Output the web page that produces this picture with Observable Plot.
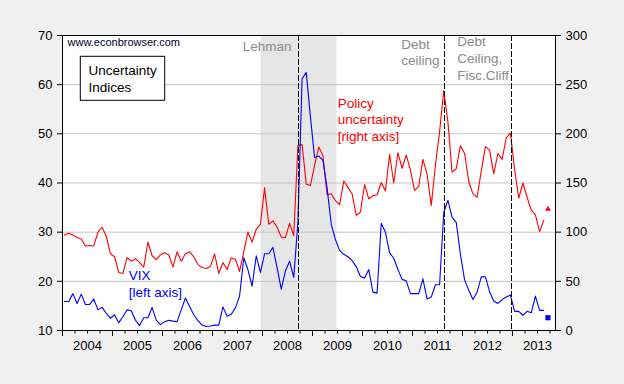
<!DOCTYPE html>
<html><head><meta charset="utf-8">
<script src="https://cdn.jsdelivr.net/npm/d3@7"></script>
<script src="https://cdn.jsdelivr.net/npm/@observablehq/plot@0.6"></script>
<style>html,body{margin:0;padding:0;background:#f0f0f0;}</style>
</head><body><div id="chart"></div>
<script>
// Monthly data, 2004M01 .. 2013M08
const startYear = 2004;
const vix = [
 15.9,15.9,17.5,15.5,17.4,15.3,15.3,16.4,14.2,14.7,13.5,12.5,
 13.2,11.6,12.8,14.2,14.0,12.1,11.0,12.6,12.6,14.7,12.1,11.2,
 11.8,12.1,11.9,11.8,14.2,16.6,14.9,13.2,12.0,11.1,10.8,10.9,
 11.1,11.1,14.8,12.9,13.3,14.6,17.0,24.8,22.4,19.0,25.2,21.8,
 25.6,25.6,26.9,22.8,18.4,22.1,24.1,20.8,32.0,61.2,62.5,53.5,
 45.2,45.5,44.6,39.0,31.6,28.5,26.3,25.5,25.0,24.2,23.0,21.0,
 20.7,22.4,17.8,17.6,31.8,30.0,25.8,24.7,22.4,20.4,20.1,17.5,
 17.5,17.5,20.5,16.4,16.8,19.3,19.3,34.0,36.5,33.0,32.0,25.5,
 20.3,18.2,16.3,17.8,20.9,20.9,17.9,16.0,15.5,16.3,16.8,17.2,
 13.9,13.9,13.1,13.9,13.6,17.0,14.1,14.1
];
const policy = [
 97,99,97,94.5,93,86,86.5,86,100,105,96,78,
 75,59,58,74,70.5,73,69,64.5,90,76,72,77,
 79,77,64.5,80,70.5,78,80,75,67,64,63,65,
 78,58,69,62,74,72.5,60,80,100,90,103,108,
 145,108,111.5,105,95,94.5,109,96.5,188,189,149,147.5,
 168,186.5,178,138,139,132,128,152,145.5,139,117,120.5,
 148.5,134,137,138,150.5,142,179,150,181,165,178.5,163,
 142.5,146.5,174,159,127,168,202,244,212,161,164.5,188,
 180,151.5,139,135.5,162,187,183.5,159.5,180,174,196,201,
 164,134.5,150,135.5,122.5,117.5,100.5,112
];
// latest readings (2013M09), shown as markers
const latestMonthIndex = 116;
const vixLatest = 12.6;
const policyLatest = 123.5;

const yearLabels = [2004,2005,2006,2007,2008,2009,2010,2011,2012,2013];
const leftTicks = [10,20,30,40,50,60,70];
const gridValues = [20,30,40,50,60];
const rightTicks = [0,50,100,150,200,250,300];
const events = [
  {name:"Lehman", date:2008.72},
  {name:"Debt ceiling", date:2011.64},
  {name:"Fiscal cliff", date:2012.98}
];
const recession = [{start:2007.97, end:2009.49}];

// right axis (0..300) mapped onto left axis (10..70)
const toLeft = v => 10 + v * 60 / 300;
const fromLeft = d => Math.round((d - 10) * 300 / 60);
const monthX = i => startYear + (i + 0.5) / 12;

const rows = vix.map((v, i) => ({t: monthX(i), vix: v, policy: toLeft(policy[i])}));
const latest = [{t: monthX(latestMonthIndex), vix: vixLatest, policy: toLeft(policyLatest)}];

const quarters = [];
for (let y = 2004; y <= 2013; y++) for (const q of [0.25, 0.5, 0.75]) quarters.push(y + q);

const font = "'Liberation Sans', Arial, Helvetica, sans-serif";
const gray = "#8a8a8a";

const notes = [
  {x:2008.58, y:66.81, text:"Lehman", anchor:"end", fill:gray},
  {x:2010.774, y:63.90, text:"Debt\nceiling", anchor:"start", fill:gray},
  {x:2011.894, y:60.99, text:"Debt\nCeiling,\nFisc.Cliff", anchor:"start", fill:gray},
  {x:2009.506, y:48.50, text:"Policy\nuncertainty\n[right axis]", anchor:"start", fill:"#ff0000"},
  {x:2005.326, y:16.77, text:"VIX\n[left axis]", anchor:"start", fill:"#0000ff"},
  {x:2004.52, y:58.47, text:"Uncertainty\nIndices", anchor:"start", fill:"black"}
];
const box = [{x1:2004.366, x2:2006.054, y1:56.72, y2:65.67}];

const chart = Plot.plot({
  width: 624,
  height: 384,
  marginLeft: 62,
  marginRight: 69,
  marginTop: 35,
  marginBottom: 54,
  style: {background: "#f0f0f0", fontFamily: font, color: "black", overflow: "visible"},
  x: {domain: [2004, 2013.86]},
  y: {domain: [10, 70]},
  marks: [
    Plot.frame({fill: "white", stroke: "none"}),
    Plot.rect(recession, {x1: "start", x2: "end", y1: () => 10, y2: () => 70, fill: "#e6e6e6"}),
    Plot.gridY(gridValues, {stroke: "#c4c4c4", strokeOpacity: 1}),
    Plot.line(rows, {x: "t", y: "policy", stroke: "#ff0000", strokeWidth: 1.1}),
    Plot.line(rows, {x: "t", y: "vix", stroke: "#0000ff", strokeWidth: 1.1}),
    Plot.ruleX(events, {x: "date", stroke: "black", strokeWidth: 1, strokeDasharray: "6,2"}),
    Plot.dot(latest, {x: "t", y: "policy", symbol: "triangle", r: 2.2, fill: "#ff0000", stroke: "none"}),
    Plot.dot(latest, {x: "t", y: "vix", symbol: "square", r: 2.9, fill: "#0000ff", stroke: "none"}),
    Plot.axisY(leftTicks, {anchor: "left", tickSize: 5, tickPadding: 5, fontSize: 13}),
    Plot.axisY(rightTicks.map(toLeft), {anchor: "right", tickSize: 5, tickPadding: 5, fontSize: 13, tickFormat: fromLeft}),
    Plot.axisX(yearLabels, {tickSize: 6, tickFormat: () => ""}),
    Plot.axisX(quarters, {tickSize: 3.5, tickFormat: () => ""}),
    Plot.axisX(yearLabels.map(y => y + 0.5), {tickSize: 0, tickPadding: 10, fontSize: 13, tickFormat: d => String(Math.floor(d))}),
    Plot.frame({stroke: "black"}),
    Plot.rect(box, {x1: "x1", x2: "x2", y1: "y1", y2: "y2", fill: "white", stroke: "black"}),
    Plot.text(notes, {x: "x", y: "y", text: "text", textAnchor: "start", lineAnchor: "bottom", lineHeight: 1.24, fontSize: 13.5, fill: "fill",
      filter: d => d.anchor === "start"}),
    Plot.text(notes, {x: "x", y: "y", text: "text", textAnchor: "end", lineAnchor: "bottom", lineHeight: 1.24, fontSize: 13.5, fill: "fill",
      filter: d => d.anchor === "end"}),
    Plot.text(["www.econbrowser.com"], {x: () => 2004.1, y: () => 67.9, text: d => d, textAnchor: "start", lineAnchor: "bottom", fontSize: 11, fill: "#000033"})
  ]
});
document.getElementById("chart").appendChild(chart);
</script>
</body></html>
